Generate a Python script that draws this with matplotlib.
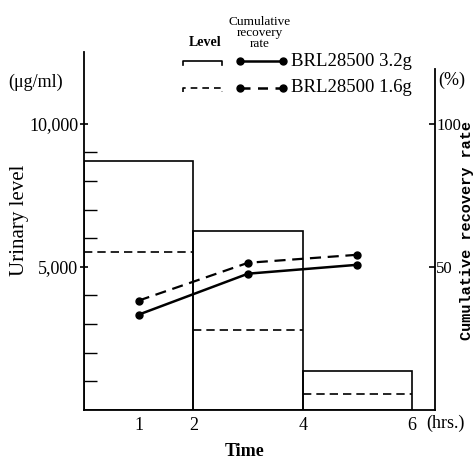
import matplotlib
matplotlib.use("Agg")
import matplotlib.pyplot as plt
from matplotlib.lines import Line2D

# ---- data ----
interval_start = [0, 2, 4]
interval_width = [2, 2, 2]
level_32 = [8700, 6250, 1350]
level_16 = [5500, 2780, 550]
time_points = [1, 3, 5]
cum_32 = [33.3, 47.6, 50.7]
cum_16 = [38.2, 51.4, 54.2]
xtick_vals = [1, 2, 4, 6]
xtick_labels = ["1", "2", "4", "6"]

W, H = 475, 459
plt.rcParams['font.family'] = ['Liberation Serif', 'DejaVu Serif']
fig = plt.figure(figsize=(W / 100, H / 100), dpi=100)

def fx(px):
    return px / W

def fy(py):
    return 1 - py / H

left, right, bottom, top = 84, 435, 410, 52
ax = fig.add_axes([fx(left), fy(bottom), fx(right) - fx(left), fy(top) - fy(bottom)])
ax.set_xlim(0, 6.42)
ax.set_ylim(0, 12500)
for s in ['top', 'right']:
    ax.spines[s].set_visible(False)
ax.spines['left'].set_linewidth(1.3)
ax.spines['bottom'].set_linewidth(1.3)

# level bars (3.2g solid)
ax.bar(interval_start, level_32, width=interval_width, align='edge', fill=False,
       edgecolor='black', linewidth=1.2, zorder=2)
# level 1.6g dashed
ends = [s + w for s, w in zip(interval_start, interval_width)]
ax.hlines(level_16, interval_start, ends, colors='black', linestyles=(0, (5, 3)),
          linewidth=1.2)

# y ticks
ax.set_yticks([5000, 10000])
ax.set_yticklabels(["5,000", "10,000"], fontsize=13)
ax.tick_params(axis='y', which='major', direction='inout', length=6, width=1.2, pad=1)
ax.set_yticks([1000, 2000, 3000, 4000, 6000, 7000, 8000, 9000], minor=True)
ax.tick_params(axis='y', which='minor', direction='in', length=9, width=1.0)

ax.set_xticks(xtick_vals)
ax.set_xticklabels(xtick_labels, fontsize=13)
ax.tick_params(axis='x', length=0, pad=5)

# twin axis for cumulative recovery
ax2 = ax.twinx()
ax2.set_ylim(0, 125)
ax2.set_xlim(0, 6.42)
for s in ['top', 'left', 'bottom']:
    ax2.spines[s].set_visible(False)
ax2.spines['right'].set_bounds(0, 119)
ax2.spines['right'].set_linewidth(1.3)
ax2.set_yticks([50, 100])
ax2.set_yticklabels(["50", "100"], fontsize=12)
ax2.tick_params(axis='y', direction='in', length=4, width=1.2, pad=1)

ax2.plot(time_points, cum_32, color='black', linewidth=1.8, marker='o', markersize=5)
ax2.plot(time_points, cum_16, color='black', linewidth=1.6, linestyle=(0, (5, 3)),
         marker='o', markersize=5)

# texts
fig.text(fx(8), fy(82), "(μg/ml)", fontsize=13, va='center', ha='left')
fig.text(fx(20), fy(220), "Urinary level", fontsize=15, rotation=90,
         va='center', ha='center')
fig.text(fx(438), fy(80), "(%)", fontsize=13, va='center', ha='left')
fig.text(fx(467), fy(230), "Cumulative recovery rate", fontsize=11,
         family=['Liberation Mono', 'DejaVu Sans Mono'], weight='bold',
         rotation=90, va='center', ha='center')
fig.text(fx(426), fy(423), "(hrs.)", fontsize=13, va='center', ha='left')
fig.text(fx(245), fy(452), "Time", fontsize=13, va='center', ha='center', weight='bold')

# legend
fig.text(fx(205), fy(42), "Level", fontsize=10, va='center', ha='center', weight='bold')
fig.text(fx(260), fy(33), "Cumulative\nrecovery\nrate", fontsize=9.5, va='center',
         ha='center', linespacing=0.9)
for ry, ls, lab in [(61, '-', "BRL28500 3.2g"), (88, (0, (4, 3)), "BRL28500 1.6g")]:
    fig.add_artist(Line2D([fx(183), fx(183), fx(222), fx(222)],
                          [fy(ry + 4), fy(ry), fy(ry), fy(ry + 4)],
                          transform=fig.transFigure, color='black', linewidth=1.2,
                          linestyle=ls))
    fig.add_artist(Line2D([fx(240), fx(283)], [fy(ry), fy(ry)],
                          transform=fig.transFigure, color='black', linewidth=1.8,
                          linestyle=ls, marker='o', markersize=5))
    fig.text(fx(291), fy(ry), lab, fontsize=13.5, va='center', ha='left')

fig.savefig("out.png", dpi=100)
